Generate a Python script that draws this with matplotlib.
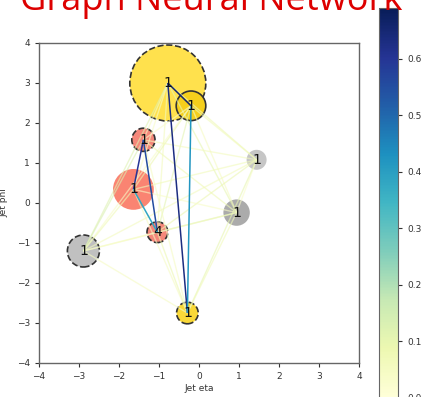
import numpy as np
import matplotlib
matplotlib.use("Agg")
import matplotlib.pyplot as plt
from matplotlib.patches import Circle
from matplotlib.collections import LineCollection
from matplotlib.colors import Normalize
from matplotlib.cm import ScalarMappable

# Node data
node_eta = [-0.78, -0.20, -1.39, 1.44, -1.64, 0.94, -1.04, -2.89, -0.29]
node_phi = [3.00, 2.43, 1.58, 1.08, 0.34, -0.24, -0.73, -1.20, -2.75]
node_size = [0.95, 0.37, 0.29, 0.25, 0.51, 0.33, 0.26, 0.40, 0.27]
node_color = ['#ffe14d', '#f5cf1c', '#f4877a', '#c6c6c6', '#fa8472',
              '#ababab', '#f4877a', '#c0c0c0', '#f9d838']
node_edge = ['dashed', 'solid', 'dashed', 'none', 'none', 'none', 'dashed', 'dashed', 'dashed']
node_label = ['1', '1', '1', '1', '1', '1', '4', '1', '1']

# Strong edge scores (others light)
strong_edges = {(0, 8): 0.63, (1, 8): 0.42, (0, 1): 0.66, (2, 4): 0.60,
                (2, 6): 0.55, (4, 6): 0.38}
light_scores = [0.05, 0.08, 0.04, 0.10, 0.06, 0.12, 0.03, 0.07, 0.09, 0.05,
                0.11, 0.04, 0.06, 0.08, 0.13, 0.05, 0.07, 0.03, 0.09, 0.06,
                0.10, 0.04, 0.08, 0.05, 0.12, 0.06, 0.07, 0.04, 0.09, 0.05]

vmax = 0.69
cbar_ticks = [0.0, 0.1, 0.2, 0.3, 0.4, 0.5, 0.6]

fig = plt.figure(figsize=(4.22, 3.97), dpi=100)
ax = fig.add_axes([39/422, 1-363/397, 320/422, 320/397])

n = len(node_eta)
cmap = plt.get_cmap('YlGnBu')
norm = Normalize(0, vmax)

# nodes
for i in range(n):
    ls = node_edge[i]
    if ls == 'none':
        c = Circle((node_eta[i], node_phi[i]), node_size[i], facecolor=node_color[i],
                   edgecolor='none', zorder=1)
    else:
        c = Circle((node_eta[i], node_phi[i]), node_size[i], facecolor=node_color[i],
                   edgecolor='#333333', linestyle='--' if ls == 'dashed' else '-',
                   linewidth=1.2, zorder=1)
    ax.add_patch(c)

# edges
segs_light, vals_light, segs_strong, vals_strong = [], [], [], []
k = 0
for i in range(n):
    for j in range(i+1, n):
        seg = [(node_eta[i], node_phi[i]), (node_eta[j], node_phi[j])]
        if (i, j) in strong_edges:
            segs_strong.append(seg); vals_strong.append(strong_edges[(i, j)])
        else:
            segs_light.append(seg); vals_light.append(light_scores[k % len(light_scores)]); k += 1

lc1 = LineCollection(segs_light, cmap=cmap, norm=norm, linewidths=1.0, alpha=0.6, zorder=2)
lc1.set_array(np.array(vals_light))
ax.add_collection(lc1)
lc2 = LineCollection(segs_strong, cmap=cmap, norm=norm, linewidths=1.1, zorder=3)
lc2.set_array(np.array(vals_strong))
ax.add_collection(lc2)

for i in range(n):
    ax.text(node_eta[i], node_phi[i], node_label[i], ha='center', va='center',
            fontsize=10, color='#111111', zorder=4)

ax.set_xlim(-4, 4)
ax.set_ylim(-4, 4)
ax.set_xticks(range(-4, 5))
ax.set_yticks(range(-4, 5))
ax.tick_params(labelsize=6.5, colors='#333333', length=3, width=0.8)
for s in ax.spines.values():
    s.set_color('#666666')
    s.set_linewidth(1.0)
ax.set_xlabel('Jet eta', fontsize=6.5, color='#333333', labelpad=2)
ax.set_ylabel('Jet phi', fontsize=6.5, color='#333333', labelpad=6)

cax = fig.add_axes([379/422, -0.002, 19/422, 0.982])
sm = ScalarMappable(norm=norm, cmap=cmap)
cb = fig.colorbar(sm, cax=cax, ticks=cbar_ticks)
cb.ax.tick_params(labelsize=6.5, colors='#333333', length=3, width=0.8)
cb.outline.set_edgecolor('#666666')
cb.set_label('Edge score', fontsize=6.5, color='#333333', labelpad=6)

fig.text(0.5, 1-10/397, 'Graph Neural Network', ha='center', va='baseline',
         fontsize=26, color='#dd0000', family='Open Sans')

fig.savefig('out.png', dpi=100)
